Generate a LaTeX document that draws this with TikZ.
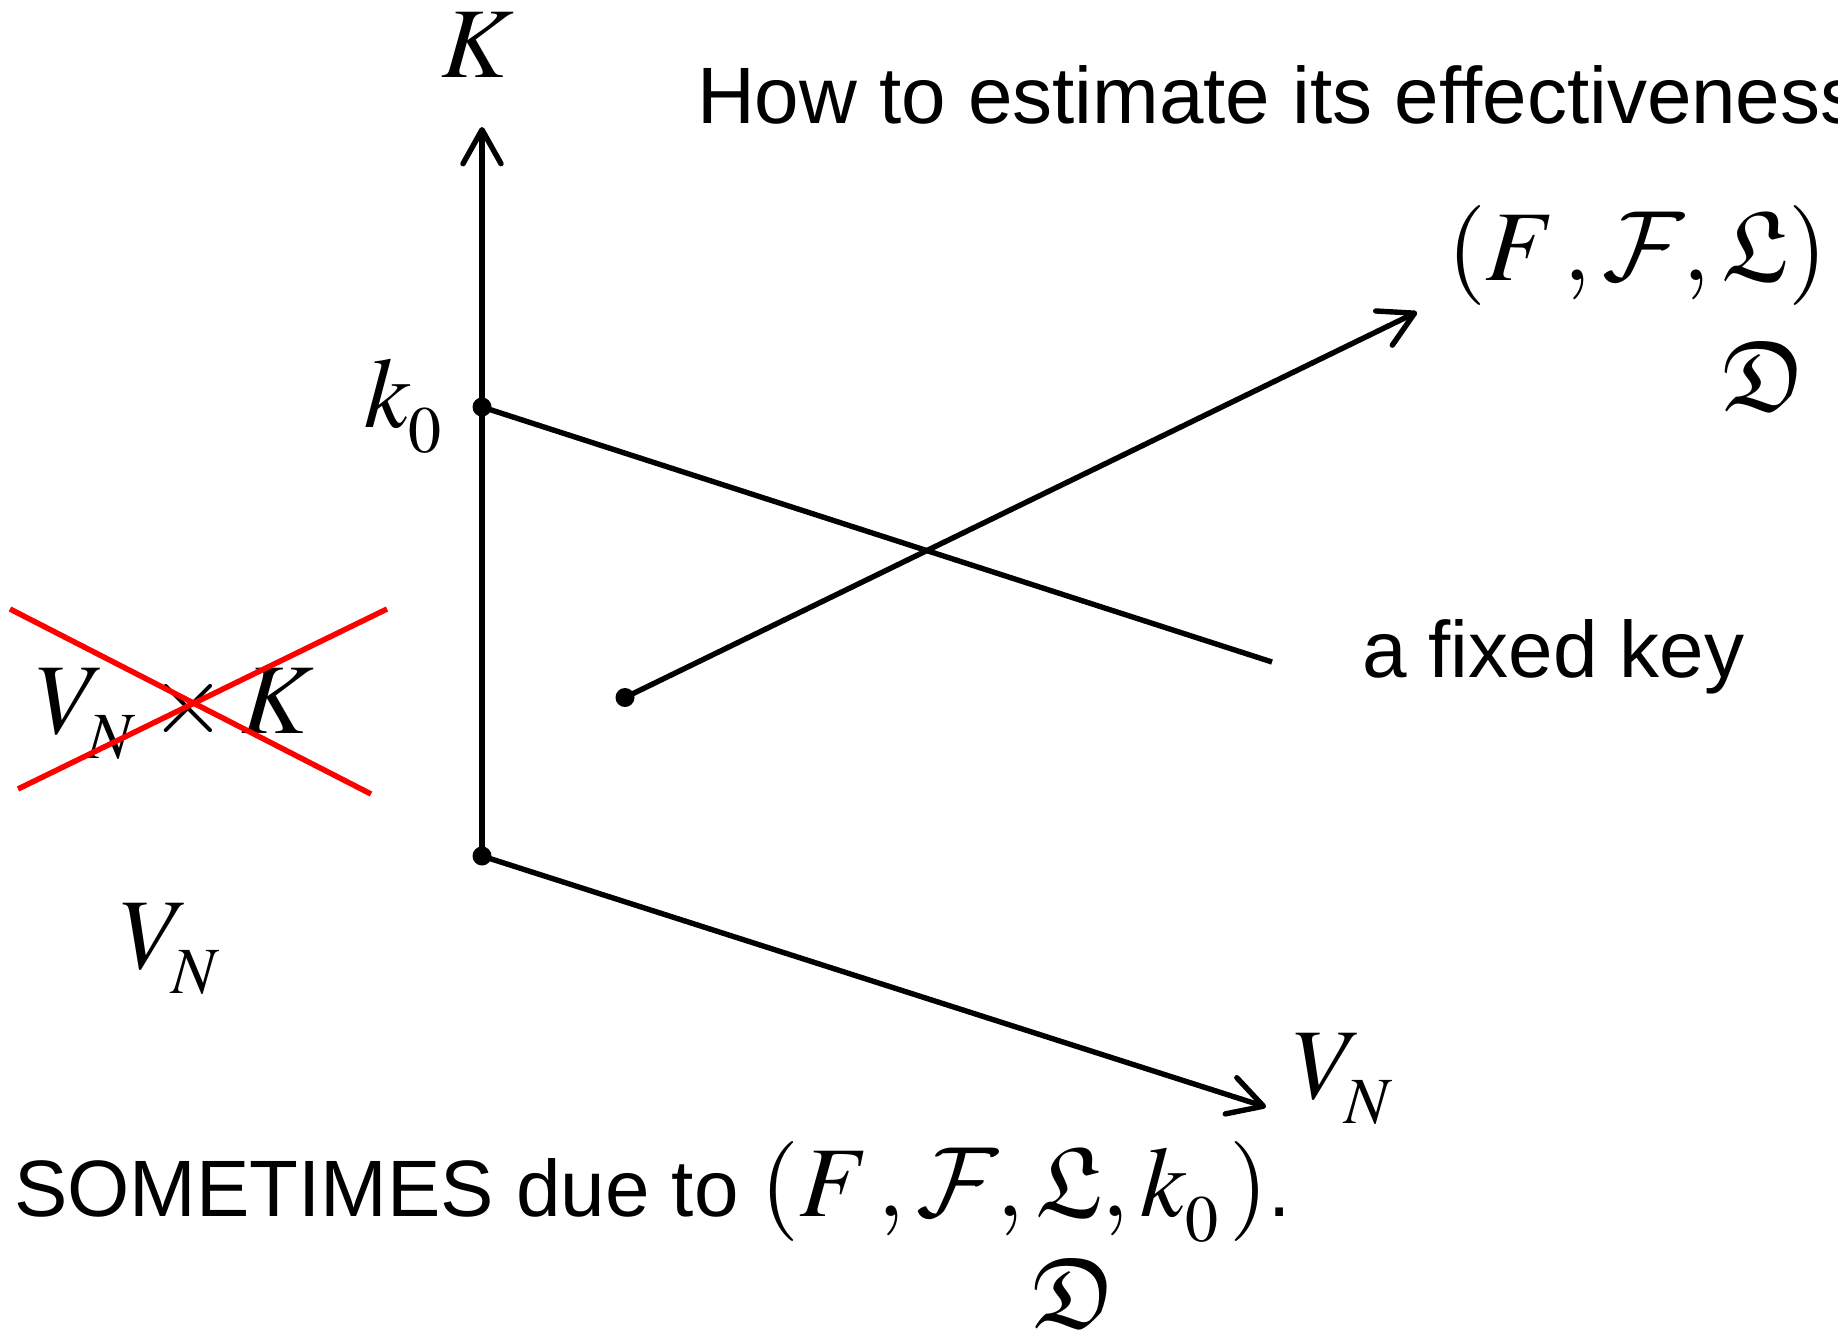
\documentclass[tikz,border=0pt]{standalone}
\usepackage{amssymb}
\usepackage{mathptmx}
\usepackage[no-math]{fontspec}
\setmainfont{Liberation Sans}
\usetikzlibrary{arrows.meta}
\DeclareMathSizes{100}{100}{66}{50}
\font\calfnt=cmsy10 at 100pt
\newcommand{\cF}{\mathord{\hbox{\calfnt F}}}
\newcommand{\lsub}[1]{_{\raisebox{-10pt}{$\scriptstyle #1$}}}
\newcommand{\cg}{\mkern1.5mu,}
\tikzset{
  lbl/.style={anchor=base west, inner sep=0pt, outer sep=0pt, font=\fontsize{100}{120}\selectfont},
  txt/.style={anchor=base west, inner sep=0pt, outer sep=0pt, font=\fontsize{80}{96}\selectfont},
  ax/.style={line width=5.4pt, -{Straight Barb[length=34pt,width=38pt,round]}},
  seg/.style={line width=5.4pt},
  dotn/.style={circle, fill=black, inner sep=0pt, minimum size=19pt},
  strike/.style={line width=5.5pt, red}
}
\begin{document}
\begin{tikzpicture}[x=1pt,y=-1pt]
\fill[white] (0,0) rectangle (1838,1335);
\useasboundingbox (0,0) rectangle (1838,1335);
% points
\coordinate (ktip) at (482,127);
\coordinate (e1) at (1272,662);
\coordinate (vtip) at (1266,1107);
\coordinate (atip) at (1417,312);
\coordinate (r1a) at (10,609);
\coordinate (r1b) at (371,794);
\coordinate (r2a) at (18,789);
\coordinate (r2b) at (387,609);
% texts
\node[lbl] (Klab) at (441,78) {$K$};
\node[txt] (how) at (697,124) {How to estimate its effectiveness};
\node[lbl] (ffl) at (1447,280) {$(F\cg\cF\cg\mathfrak{L})$};
\node[lbl] (Dtop) at (1722,410) {$\mathfrak{D}$};
\node[lbl] (k0lab) at (364,427) {$k\lsub{0}$};
\node[txt] (fixed) at (1362,677) {a fixed key};
\node[lbl] (vxk) at (36,733) {$V\lsub{N}\times K$};
\node[lbl] (vnl) at (120,968) {$V\lsub{N}$};
\node[lbl] (vnr) at (1293,1098) {$V\lsub{N}$};
\node[txt] (some) at (14,1216) {SOMETIMES due to {\fontsize{100}{120}\selectfont$(F\cg\cF\cg\mathfrak{L},k\lsub{0}\mkern2mu)$}.};
\node[lbl] (Dbot) at (1032,1327) {$\mathfrak{D}$};
% dots
\node[dotn] (o) at (482,856) {};
\node[dotn] (k0) at (482,407) {};
\node[dotn] (s) at (625,697.5) {};
% lines
\draw[ax] (o.center) -- (ktip);
\draw[ax] (o.center) -- (vtip);
\draw[seg] (k0.center) -- (e1);
\draw[ax] (s.center) -- (atip);
% strike-out
\draw[strike] (r1a) -- (r1b);
\draw[strike] (r2a) -- (r2b);
\end{tikzpicture}
\end{document}
